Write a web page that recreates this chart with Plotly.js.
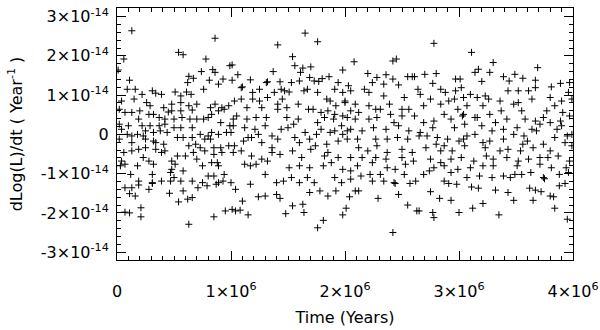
<!DOCTYPE html>
<html>
<head>
<meta charset="utf-8">
<script src="https://cdn.plot.ly/plotly-3.0.1.min.js"></script>
<style>
  html, body { margin: 0; padding: 0; background: #fff; }
  #chart { width: 600px; height: 330px; }
</style>
</head>
<body>
<div id="chart"></div>
<script>
// dLog(L)/dt against time
// time in Myr, rate in units of 1e-14 per year

// dense band, 0 - 1 Myr
var band1_t = [
  0.09,0.16,0.22,0.31,0.34,0.39,0.51,0.56,0.61,0.65,
  0.76,0.04,0.15,0.26,0.29,0.48,0.56,0.63,0.70,0.86,
  0.82,0.92,0.98,0.02,0.07,0.13,0.20,0.28,0.32,0.41,
  0.45,0.48,0.56,0.66,0.83,0.89,0.94,0.19,0.37,0.42,
  0.50,0.57,0.64,0.70,0.76,0.80,0.91,0.02,0.10,0.29,
  0.37,0.42,0.50,0.56,0.99,0.09,0.18,0.23,0.25,0.38,
  0.44,0.53,0.58,0.66,0.73,0.77,0.80,0.83,0.89,0.96,
  0.02,0.13,0.25,0.32,0.34,0.41,0.63,0.69,0.73,0.85,
  0.91,0.98,0.06,0.13,0.19,0.25,0.34,0.42,0.53,0.60,
  0.67,0.77,0.85,0.92,0.04,0.07,0.18,0.23,0.28,0.32,
  0.48,0.51,0.70,0.75,0.83,0.88,0.89,0.12,0.31,0.48,
  0.47,0.58,0.50,0.80,0.85,0.94,0.39,0.47,0.56,0.66,
  0.75,0.31,0.19,0.89,0.32,0.13,0.82,0.66,0.39,0.04,
  0.03,0.22
];
var band1_y = [
  1.15,1.15,1.02,1.11,1.05,1.02,1.08,0.98,1.08,1.02,
  1.15,0.85,0.90,0.81,0.73,0.77,0.81,0.73,0.77,0.77,
  0.68,0.68,0.73,0.64,0.56,0.56,0.60,0.51,0.51,0.68,
  0.57,0.60,0.60,0.62,0.51,0.60,0.64,0.39,0.43,0.39,
  0.39,0.43,0.39,0.39,0.39,0.43,0.30,0.26,0.22,0.22,
  0.22,0.26,0.17,0.17,0.22,0.00,0.00,-0.04,0.09,0.09,
  0.05,-0.08,-0.08,-0.08,0.00,-0.12,-0.04,0.05,0.00,0.05,
  -0.12,-0.21,-0.12,-0.17,-0.21,-0.25,-0.29,-0.25,-0.34,-0.34,
  -0.34,-0.29,-0.46,-0.42,-0.38,-0.34,-0.38,-0.42,-0.55,-0.55,
  -0.46,-0.42,-0.51,-0.46,-0.68,-0.76,-0.80,-0.59,-0.68,-0.76,
  -0.68,-0.76,-0.63,-0.80,-0.72,-0.72,-0.80,-1.02,-1.02,-0.89,
  -0.97,-0.93,-1.10,-1.06,-1.06,-1.02,-1.19,-1.19,-1.19,-1.19,
  -1.23,-1.23,-1.19,-1.23,0.05,-0.04,-0.12,0.17,-0.46,0.13,
  -0.80,0.22
];

// dense band, 1 - 2 Myr
var band2_t = [
  1.09,1.19,1.25,1.38,1.44,1.47,1.51,1.64,1.67,1.76,
  1.91,1.98,1.03,1.09,1.19,1.25,1.32,1.45,1.59,1.84,
  1.87,1.92,2.00,1.14,1.27,1.41,1.49,1.68,1.72,1.79,
  1.85,1.91,1.02,1.05,1.14,1.22,1.31,1.49,1.59,1.76,
  1.82,1.90,1.98,1.02,1.12,1.21,1.30,1.44,1.50,1.65,
  1.79,1.87,1.91,1.98,1.00,1.24,1.36,1.03,1.11,1.18,
  1.27,1.36,1.41,1.56,1.60,1.69,1.74,1.84,1.94,1.02,
  1.09,1.18,1.27,1.36,1.43,1.54,1.62,1.70,1.82,1.94,
  1.12,1.17,1.22,1.32,1.51,1.60,1.69,1.81,1.88,1.98,
  1.30,1.53,1.17,1.40,1.46,1.60,1.67,1.73,1.91,1.97,
  1.00,1.15,1.55,1.75,1.85,1.97,1.41
];
var band2_y = [
  1.19,1.07,1.15,1.07,1.15,1.11,1.08,1.11,1.15,1.07,
  1.15,1.07,0.85,0.90,0.90,0.85,0.94,0.90,0.77,0.90,
  0.85,0.73,0.81,0.68,0.68,0.64,0.68,0.64,0.64,0.56,
  0.60,0.51,0.39,0.47,0.39,0.43,0.43,0.43,0.39,0.30,
  0.43,0.39,0.47,0.22,0.17,0.13,0.22,0.13,0.17,0.05,
  0.13,0.05,0.09,0.00,0.05,0.00,-0.04,-0.29,-0.17,-0.08,
  -0.21,-0.34,-0.12,-0.08,-0.21,-0.12,-0.29,-0.25,-0.17,-0.46,
  -0.42,-0.55,-0.63,-0.46,-0.51,-0.42,-0.59,-0.38,-0.55,-0.59,
  -0.76,-0.80,-0.76,-0.68,-0.85,-0.80,-0.85,-0.80,-0.72,-0.89,
  -1.02,-1.10,-1.27,-1.23,-1.19,-1.23,-1.10,-1.23,-1.10,-1.23,
  -1.23,-0.08,0.26,0.00,-0.46,0.22,0.77
];

// dense band, 2 - 3 Myr
var band3_t = [
  2.05,2.17,2.21,2.34,2.52,2.64,2.66,2.84,2.88,2.97,
  3.02,2.00,2.09,2.21,2.27,2.31,2.39,2.50,2.56,2.69,
  2.75,2.84,2.91,2.96,2.99,2.05,2.12,2.02,2.09,2.21,
  2.28,2.40,2.50,2.61,2.69,2.78,2.87,2.93,3.03,2.05,
  2.15,2.25,2.36,2.47,2.56,2.66,2.77,2.96,2.02,2.11,
  2.37,2.46,2.55,2.65,2.81,2.90,3.00,2.12,2.20,2.28,
  2.37,2.50,2.59,2.71,2.80,2.87,2.94,2.05,2.15,2.27,
  2.36,2.50,2.60,2.75,2.84,2.93,2.11,2.24,2.37,2.44,
  2.53,2.78,2.87,2.99,2.05,2.14,2.22,2.31,2.52,2.69,
  2.74,2.93,2.05,2.43,2.87,2.62,2.34,2.24,2.02,2.43,
  2.72,2.27,2.84
];
var band3_y = [
  1.11,1.15,1.07,0.98,0.94,1.15,1.02,1.15,1.07,1.11,
  1.19,0.85,0.77,0.73,0.64,0.64,0.77,0.64,0.64,0.73,
  0.90,0.77,0.85,0.90,0.64,0.60,0.56,0.43,0.39,0.39,
  0.43,0.51,0.47,0.47,0.30,0.34,0.51,0.39,0.47,0.13,
  0.09,0.17,0.13,0.22,0.09,0.05,0.17,0.17,-0.12,-0.12,
  -0.12,-0.08,-0.12,-0.04,-0.08,-0.12,-0.17,-0.34,-0.42,-0.29,
  -0.46,-0.38,-0.46,-0.34,-0.25,-0.29,-0.42,-0.59,-0.59,-0.59,
  -0.63,-0.59,-0.68,-0.63,-0.72,-0.63,-0.80,-0.72,-0.85,-0.89,
  -0.76,-0.85,-0.80,-0.89,-0.93,-1.06,-1.02,-1.02,-1.02,-1.02,
  -0.93,-0.97,-1.14,-1.23,-1.19,-1.19,-1.19,-1.19,0.09,0.30,
  -0.04,-0.12,-0.42
];

// dense band, 3 - 4 Myr
var band4_t = [
  3.04,3.10,3.16,3.23,3.26,3.36,3.43,3.52,3.61,3.67,
  3.64,3.80,3.90,3.96,3.99,3.52,3.48,3.07,3.21,3.37,
  3.55,3.77,3.84,3.91,3.04,3.16,3.27,3.42,3.58,3.67,
  3.74,3.89,3.97,3.05,3.20,3.32,3.39,3.51,3.64,3.71,
  3.80,3.90,3.07,3.14,3.29,3.48,3.68,3.95,3.99,3.04,
  3.21,3.27,3.39,3.56,3.60,3.74,3.84,3.93,3.05,3.23,
  3.43,3.54,3.65,3.80,3.99,3.02,3.13,3.24,3.30,3.42,
  3.52,3.61,3.71,3.78,3.87,3.97,3.10,3.21,3.30,3.51,
  3.71,3.81,3.94,3.07,3.18,3.29,3.39,3.45,3.55,3.63,
  3.74,3.88,3.96,3.49,3.86,3.57,3.36,3.14
];
var band4_y = [
  0.94,1.02,0.94,0.98,0.90,0.85,1.11,1.11,1.11,1.19,
  0.90,0.94,0.85,1.07,0.90,0.81,0.77,0.73,0.73,0.60,
  0.60,0.60,0.73,0.56,0.51,0.43,0.51,0.39,0.39,0.34,
  0.43,0.34,0.47,0.26,0.22,0.30,0.13,0.17,0.13,0.26,
  0.30,0.22,-0.04,0.00,0.09,0.00,0.09,-0.04,0.00,-0.12,
  -0.21,-0.17,-0.12,-0.25,-0.17,-0.25,-0.08,-0.21,-0.29,-0.34,
  -0.38,-0.42,-0.34,-0.42,-0.29,-0.59,-0.68,-0.55,-0.63,-0.59,
  -0.68,-0.63,-0.59,-0.59,-0.55,-0.68,-0.85,-0.80,-0.80,-0.80,
  -0.76,-0.85,-0.85,-1.10,-1.06,-1.10,-1.06,-1.10,-1.02,-0.97,
  -1.10,-1.02,-0.97,-1.02,0.13,-0.04,-0.42,0.43
];

// scattered points above the band
var upper_t = [
  0.13,0.86,0.54,0.58,0.06,0.78,0.99,1.01,0.74,0.84,
  0.86,0.63,0.67,0.81,0.93,1.01,1.06,1.17,1.31,0.11,
  0.62,0.89,1.10,0.01,
  1.65,1.41,1.76,1.54,2.08,2.42,2.45,1.37,1.56,1.63,
  1.70,1.61,1.98,2.20,2.28,2.36,2.42,2.55,2.59,1.32,
  1.43,1.53,1.60,1.69,1.73,1.77,1.80,1.86,1.94,2.03,
  2.24,2.34,2.47,
  2.78,3.11,3.30,3.69,3.17,3.14,3.27,3.39,3.49,3.56,
  3.67,3.44,2.61,2.70,2.80,3.20,2.77,2.97,3.01,3.81,
  3.89,3.97
];
var upper_y = [
  2.64,2.45,2.09,2.03,1.92,1.92,1.75,1.77,1.60,1.65,
  1.58,1.48,1.43,1.38,1.41,1.38,1.52,1.39,1.32,1.38,
  1.32,1.28,1.21,1.64,
  2.58,2.28,2.36,1.98,1.85,1.87,1.92,1.60,1.75,1.69,
  1.72,1.58,1.64,1.55,1.45,1.52,1.41,1.47,1.47,1.34,
  1.34,1.32,1.36,1.45,1.36,1.35,1.42,1.47,1.32,1.24,
  1.32,1.28,1.26,
  2.32,2.09,1.83,1.70,1.66,1.58,1.58,1.47,1.53,1.43,
  1.38,1.36,1.47,1.53,1.55,1.35,1.30,1.41,1.41,1.21,
  1.30,1.32
];

// scattered points below the band
var lower_t = [
  0.07,0.13,0.19,0.11,0.16,0.28,0.46,0.54,0.58,0.62,
  0.66,0.71,0.79,1.04,1.10,1.24,0.07,0.11,0.21,0.21,
  0.63,0.85,0.95,1.01,1.04,1.08,1.15,0.31,0.87,0.93,
  1.40,1.43,1.54,1.63,1.48,1.64,1.69,1.78,1.85,1.92,
  2.04,2.01,1.98,1.81,1.76,2.09,2.12,2.29,2.42,2.47,
  2.55,2.63,2.44,2.57,1.30,
  2.91,2.98,2.75,2.83,2.93,3.11,3.17,3.32,3.43,3.48,
  3.62,3.67,3.72,3.80,3.83,3.65,3.88,3.93,2.65,2.77,
  2.78,3.00,3.12,3.21,3.35,3.84,3.95,3.75
];
var lower_y = [
  -1.36,-1.36,-1.29,-1.51,-1.57,-1.40,-1.50,-1.72,-1.44,-1.65,
  -1.61,-1.36,-1.31,-1.40,-1.70,-1.59,-1.98,-2.00,-1.87,-2.10,
  -2.29,-2.10,-1.95,-1.91,-1.95,-1.93,-2.05,-1.25,-1.27,-1.19,
  -1.53,-1.63,-1.82,-1.78,-2.02,-1.99,-1.48,-1.44,-1.57,-1.44,
  -1.59,-1.88,-2.05,-2.19,-2.38,-1.44,-1.44,-1.63,-2.50,-1.53,
  -1.80,-1.95,-1.25,-1.25,-1.57,
  -1.25,-1.27,-1.46,-1.63,-1.68,-1.34,-1.37,-1.42,-1.48,-1.68,
  -1.37,-1.42,-1.46,-1.57,-1.59,-1.68,-1.31,-1.25,-1.95,-1.99,
  -2.12,-1.99,-1.88,-1.76,-2.05,-1.88,-2.16,-1.13
];

var x_tickvals = [0, 1e6, 2e6, 3e6, 4e6];
var x_ticktext = ['0', '1×10<sup>6</sup>', '2×10<sup>6</sup>', '3×10<sup>6</sup>', '4×10<sup>6</sup>'];
var y_tickvals = [-3e-14, -2e-14, -1e-14, 0, 1e-14, 2e-14, 3e-14];
var y_ticktext = ['-3×10<sup>-14</sup>', '-2×10<sup>-14</sup>', '-1×10<sup>-14</sup>', '0',
                  '1×10<sup>-14</sup>', '2×10<sup>-14</sup>', '3×10<sup>-14</sup>'];

var all_t = [].concat(band1_t, band2_t, band3_t, band4_t, upper_t, lower_t);
var all_y = [].concat(band1_y, band2_y, band3_y, band4_y, upper_y, lower_y);

var trace = {
  x: all_t.map(function (t) { return t * 1e6; }),
  y: all_y.map(function (v) { return v * 1e-14; }),
  mode: 'markers',
  type: 'scatter',
  marker: {
    symbol: 'cross-thin-open',
    size: 5,
    color: 'black',
    line: { color: 'black', width: 1 }
  },
  hoverinfo: 'skip'
};

var fontname = 'DejaVu Sans, sans-serif';
var tickfont = { family: fontname, size: 16, color: 'black' };

var layout = {
  width: 600,
  height: 330,
  margin: { l: 117, r: 27, t: 8, b: 70 },
  paper_bgcolor: 'white',
  plot_bgcolor: 'white',
  showlegend: false,
  font: { family: fontname, color: 'black' },
  xaxis: {
    range: [0, 4e6],
    tickmode: 'array',
    tickvals: x_tickvals,
    ticktext: x_ticktext,
    ticks: 'inside',
    ticklen: 9,
    tickcolor: 'black',
    showline: true,
    linecolor: 'black',
    linewidth: 1,
    mirror: 'ticks',
    showgrid: false,
    zeroline: false,
    tickfont: tickfont,
    ticklabelstandoff: 17,
    minor: { tickmode: 'linear', tick0: 0, dtick: 1e5, ticks: 'inside', ticklen: 4, tickcolor: 'black' },
    title: { text: 'Time (Years)', font: { family: fontname, size: 16, color: 'black' }, standoff: 11 }
  },
  yaxis: {
    range: [-3.2e-14, 3.22e-14],
    tickmode: 'array',
    tickvals: y_tickvals,
    ticktext: y_ticktext,
    ticks: 'inside',
    ticklen: 9,
    tickcolor: 'black',
    showline: true,
    linecolor: 'black',
    linewidth: 1,
    mirror: 'ticks',
    showgrid: false,
    zeroline: false,
    tickfont: tickfont,
    ticklabelstandoff: 4,
    minor: { tickmode: 'linear', tick0: 0, dtick: 0.2e-14, ticks: 'inside', ticklen: 4, tickcolor: 'black' },
    title: { text: 'dLog(L)/dt ( Year<sup>-1</sup> )', font: { family: fontname, size: 16, color: 'black' }, standoff: 14 }
  }
};

Plotly.newPlot('chart', [trace], layout, { displayModeBar: false, staticPlot: true });
</script>
</body>
</html>
